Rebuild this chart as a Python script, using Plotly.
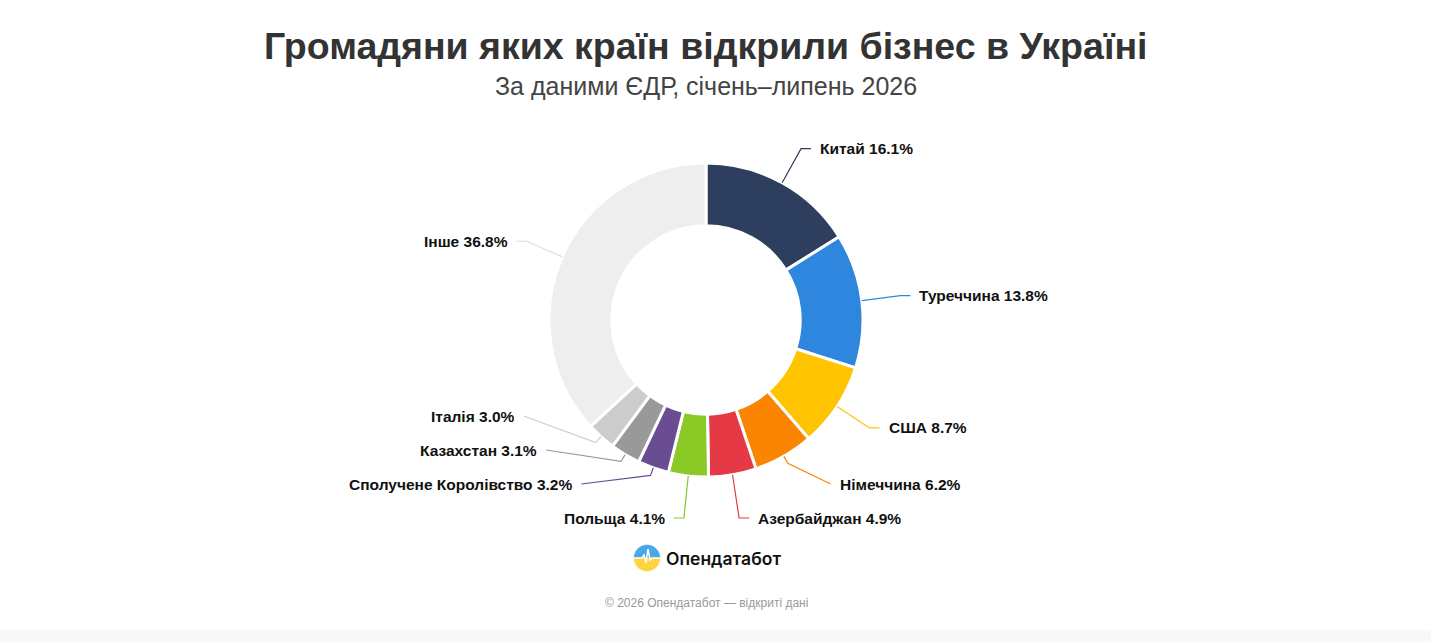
import numpy as np
import plotly.graph_objects as go

W, H = 1431, 642

# data
countries = ["Китай", "Туреччина", "США", "Німеччина", "Азербайджан", "Польща",
             "Сполучене Королівство", "Казахстан", "Італія", "Інше"]
shares = [16.1, 13.8, 8.7, 6.2, 4.9, 4.1, 3.2, 3.1, 3.0, 36.8]
colors = ["#2d3e5e", "#2e86de", "#ffc300", "#fb8500", "#e63946", "#8ac926",
          "#6a4c93", "#999999", "#cccccc", "#eeeeee"]
line_colors = colors[:-1] + ["#dddddd"]

title = "Громадяни яких країн відкрили бізнес в Україні"
subtitle = "За даними ЄДР, січень–липень 2026"
brand = "Опендатабот"
footer = "© 2026 Опендатабот — відкриті дані"

# donut geometry (pixels, from top-left)
cx, cy, r_out = 706, 320, 157
len1, len2 = 39, 10
label_gap, y_max = 34, 518


def px(x):
    return x / W


def py(y):
    return 1 - y / H


fig = go.Figure()

fig.add_trace(go.Pie(
    labels=countries,
    values=shares,
    sort=False,
    direction="clockwise",
    rotation=0,
    hole=0.6,
    marker=dict(colors=colors, line=dict(color="white", width=3)),
    textinfo="none",
    hoverinfo="label+percent",
    showlegend=False,
    domain=dict(x=[px(cx - r_out), px(cx + r_out)],
                y=[py(cy + r_out), py(cy - r_out)]),
))

# label layout: natural positions from slice mid-angles
total = sum(shares)
cum = np.cumsum(shares)
mid = [(c - s / 2) / total * 2 * np.pi for c, s in zip(cum, shares)]
sins = [np.sin(a) for a in mid]
coss = [np.cos(a) for a in mid]
side = [1 if s >= 0 else -1 for s in sins]
nat_y = [cy - (r_out + len1) * c for c in coss]
new_y = list(nat_y)

# push overlapping labels apart on each side
for sd in (1, -1):
    idx = sorted([i for i in range(len(countries)) if side[i] == sd], key=lambda i: nat_y[i])
    for _ in range(300):
        for a, b in zip(idx[:-1], idx[1:]):
            d = new_y[b] - new_y[a]
            if d < label_gap:
                shift = (label_gap - d) / 2
                new_y[a] -= shift
                new_y[b] += shift
        for i in idx:
            new_y[i] = min(new_y[i], y_max)

shapes = []
annotations = []
Ra = r_out + len1 + len2
for i, name in enumerate(countries):
    ex, ey = cx + r_out * sins[i], cy - r_out * coss[i]
    dy = new_y[i] - cy
    toward = abs(dy) < abs(nat_y[i] - cy) - 0.5
    if toward:
        rr = dy / coss[i] if abs(coss[i]) > 1e-6 else r_out + len1
        rr = min(max(rr, r_out + 8), r_out + len1)
        bx, by = cx + rr * sins[i], cy - rr * coss[i]
        ax = cx + side[i] * np.sqrt(max(Ra ** 2 - dy ** 2, 0))
    else:
        bx, by = cx + (r_out + len1) * sins[i], new_y[i]
        ax = bx + side[i] * len2
    ly = new_y[i]
    shapes.append(dict(
        type="path", xref="paper", yref="paper",
        path=f"M {px(ex)},{py(ey)} L {px(bx)},{py(by)} L {px(ax)},{py(ly)}",
        line=dict(color=line_colors[i], width=1.2),
    ))
    annotations.append(dict(
        x=px(ax + side[i] * 7), y=py(ly), xref="paper", yref="paper",
        text=f"<b>{name} {shares[i]:.1f}%</b>",
        showarrow=False,
        xanchor="left" if side[i] > 0 else "right", yanchor="middle",
        font=dict(family="Liberation Sans, Arial", size=15.5, color="#111111"),
    ))

# title block
annotations.append(dict(
    x=px(706), y=py(46), xref="paper", yref="paper", text=f"<b>{title}</b>",
    showarrow=False, xanchor="center", yanchor="middle",
    font=dict(family="Liberation Sans, Arial", size=37.5, color="#333333"),
))
annotations.append(dict(
    x=px(706), y=py(86), xref="paper", yref="paper", text=subtitle,
    showarrow=False, xanchor="center", yanchor="middle",
    font=dict(family="Liberation Sans, Arial", size=25, color="#444444"),
))

# brand logo + footer
logo_x, logo_y, logo_r = 647, 558, 13
t = np.linspace(0, np.pi, 40)
upper = "M " + " L ".join(f"{logo_r * np.cos(a):.2f},{logo_r * np.sin(a):.2f}" for a in t) + " Z"
lower = "M " + " L ".join(f"{logo_r * np.cos(a):.2f},{-logo_r * np.sin(a):.2f}" for a in t) + " Z"
pulse = "M -13,0 L -5,0 L -3,3 L -1,-5 L 1,9 L 3,-2 L 5,0 L 13,0"
for path, fill, lc in [(upper, "#4aa8ea", "#4aa8ea"), (lower, "#ffd340", "#ffd340")]:
    shapes.append(dict(type="path", xref="paper", yref="paper",
                       xsizemode="pixel", ysizemode="pixel",
                       xanchor=px(logo_x), yanchor=py(logo_y),
                       path=path, fillcolor=fill, line=dict(color=lc, width=0.5)))
shapes.append(dict(type="path", xref="paper", yref="paper",
                   xsizemode="pixel", ysizemode="pixel",
                   xanchor=px(logo_x), yanchor=py(logo_y),
                   path=pulse, line=dict(color="white", width=1.5)))
annotations.append(dict(
    x=px(664), y=py(558), xref="paper", yref="paper", text=brand,
    showarrow=False, xanchor="left", yanchor="middle",
    font=dict(family="Inter, Roboto", size=17.5, color="#111111", weight=600),
))
annotations.append(dict(
    x=px(706), y=py(603), xref="paper", yref="paper", text=footer,
    showarrow=False, xanchor="center", yanchor="middle",
    font=dict(family="Liberation Sans, Arial", size=12, color="#999999"),
))

# light strip at the bottom of the page
shapes.append(dict(type="rect", xref="paper", yref="paper",
                   x0=0, x1=1, y0=0, y1=py(630),
                   fillcolor="#f7f8f9", line=dict(width=0), layer="below"))

fig.update_layout(
    width=W,
    height=H,
    margin=dict(l=0, r=0, t=0, b=0),
    paper_bgcolor="white",
    plot_bgcolor="white",
    shapes=shapes,
    annotations=annotations,
)

fig.write_html("out.html", config={"displayModeBar": False},
               post_script="document.body.style.margin='0';")
